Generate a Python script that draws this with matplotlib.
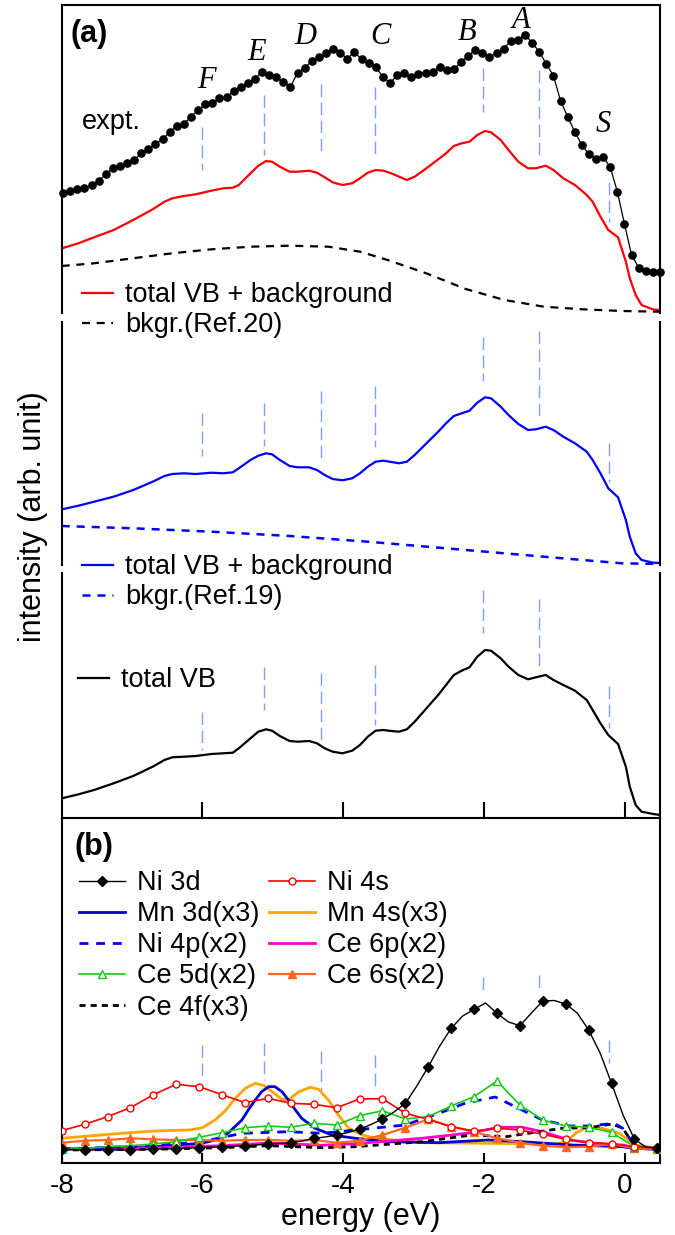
import numpy as np
import matplotlib
matplotlib.use("Agg")
import matplotlib.pyplot as plt
from matplotlib.lines import Line2D

plt.rcParams['font.family'] = ['Liberation Sans', 'DejaVu Sans']
plt.rcParams['axes.unicode_minus'] = False

# ---------------- data: panel (a) ----------------
# experimental spectrum (dots)
expt_E = np.linspace(-7.98, 0.50, 85)
expt_I = [120.3, 121.7, 123.7, 125.3, 128.0, 132.0, 138.7, 144.7, 147.0, 149.7,
          153.0, 159.7, 164.0, 168.7, 174.0, 180.7, 187.3, 189.0, 196.3, 203.0,
          208.7, 209.7, 214.7, 215.7, 221.7, 225.7, 230.3, 234.0, 241.3, 238.0,
          235.7, 231.0, 226.3, 240.3, 245.3, 252.0, 255.7, 260.3, 264.3, 260.3,
          254.3, 261.0, 253.7, 249.7, 245.7, 236.3, 229.7, 238.0, 240.0, 235.7,
          239.0, 240.3, 241.3, 246.3, 243.0, 243.7, 251.0, 257.0, 263.0, 259.7,
          255.7, 260.3, 264.3, 272.0, 273.0, 278.3, 270.3, 261.3, 249.0, 237.3,
          212.3, 196.3, 181.3, 168.0, 158.7, 154.0, 156.3, 145.7, 121.3, 89.0,
          58.0, 45.3, 42.3, 41.3, 41.3]

vb_E = [-7.995, -7.762, -7.54, -7.262, -6.984, -6.707, -6.54, -6.429, -6.262, -6.096,
        -5.873, -5.707, -5.568, -5.484, -5.318, -5.207, -5.096, -5.012, -4.901, -4.762,
        -4.651, -4.485, -4.374, -4.263, -4.151, -4.012, -3.874, -3.762, -3.651, -3.54,
        -3.429, -3.318, -3.207, -3.096, -2.985, -2.818, -2.651, -2.54, -2.429, -2.318,
        -2.207, -2.096, -1.985, -1.901, -1.763, -1.652, -1.513, -1.374, -1.263, -1.124,
        -1.013, -0.874, -0.708, -0.541, -0.457, -0.346, -0.235, -0.096, 0.015, 0.071,
        0.154, 0.238, 0.404, 0.5]
# total VB + background (Ref.20)  -- red
vb_bkg20 = [64.7, 69.7, 75.7, 83.0, 93.0, 103.7, 111.3, 114.7, 117.0, 118.7,
            122.3, 124.7, 125.3, 128.0, 139.7, 147.3, 152.0, 151.3, 146.3, 141.3,
            141.3, 142.3, 140.3, 135.7, 130.7, 128.0, 129.7, 134.7, 140.3, 143.0,
            142.3, 139.7, 136.3, 133.0, 136.3, 144.7, 153.7, 159.7, 167.0, 169.7,
            171.3, 178.0, 182.0, 180.7, 173.0, 163.0, 151.3, 144.7, 144.7, 147.3,
            143.0, 134.7, 128.0, 118.0, 111.3, 96.3, 83.0, 75.7, 51.3, 34.7,
            18.0, 8.0, 3.5, 3.0]
# total VB + background (Ref.19)  -- blue
vb_bkg19 = [55.7, 59.3, 63.3, 68.3, 75.0, 83.3, 89.0, 91.0, 91.7, 91.0,
            92.3, 91.7, 92.7, 96.7, 105.0, 109.3, 111.7, 110.7, 105.0, 99.0,
            97.7, 97.7, 95.0, 90.0, 86.0, 84.7, 86.7, 91.7, 98.3, 103.3,
            104.3, 103.0, 101.7, 103.3, 110.0, 121.7, 133.3, 141.7, 149.0, 151.7,
            154.3, 162.3, 167.7, 166.7, 158.3, 150.0, 141.0, 135.0, 135.7, 138.3,
            135.0, 128.3, 121.7, 113.3, 105.0, 91.7, 76.7, 67.7, 45.0, 28.3,
            11.7, 5.0, 2.3, 2.0]
# total VB -- black
vb_total = [19.7, 23.7, 28.0, 34.7, 42.0, 51.3, 58.0, 60.7, 61.3, 62.0,
            64.0, 64.7, 65.3, 69.7, 79.7, 86.3, 88.7, 87.3, 82.0, 77.0,
            76.3, 77.0, 74.7, 69.7, 66.3, 64.7, 67.3, 73.0, 81.3, 87.3,
            88.0, 87.0, 86.3, 88.7, 96.3, 109.7, 123.0, 133.0, 143.0, 147.3,
            150.7, 161.3, 168.0, 167.3, 159.7, 151.3, 143.0, 138.7, 140.7, 143.0,
            138.0, 133.0, 127.3, 118.0, 108.0, 94.7, 83.0, 74.0, 51.3, 31.3,
            13.0, 6.3, 4.0, 3.0]

bkg20_E = [-8.0, -7.54, -6.99, -6.43, -5.87, -5.32, -4.76, -4.21, -3.76, -3.37,
           -2.82, -2.26, -1.71, -1.15, -0.6, -0.04, 0.5]
bkg20_I = [47.0, 49.7, 54.7, 59.7, 63.7, 66.3, 67.3, 66.3, 61.3, 53.0,
           39.7, 24.0, 13.0, 6.3, 3.7, 2.0, 1.3]
bkg19_E = [-8.0, -6.99, -5.87, -4.76, -3.65, -2.54, -1.43, -0.6, -0.04, 0.5]
bkg19_I = [39.0, 36.7, 33.3, 29.0, 23.3, 16.7, 10.0, 5.0, 1.7, 1.0]

# peak markers (dashed guide lines)
peak_names = ['F', 'E', 'D', 'C', 'B', 'A', 'S']
peak_E = [-6.00, -5.12, -4.31, -3.55, -2.01, -1.22, -0.22]
a1_lo = [143, 158, 158, 158, 201, 153, 91]
a1_hi = [186, 218, 229, 226, 245, 243, 131]
a2_lo = [109, 119, 102, 118, 184, 145, 83]
a2_hi = [152, 162, 174, 179, 228, 234, 122]
a3_lo = [68, 108, 78, 93, 185, 150, 90]
a3_hi = [106, 151, 145, 153, 228, 219, 132]
b_lo = [86, 83, 73, 73, 173, 173, 100]
b_hi = [118, 120, 112, 108, 186, 188, 123]

# ---------------- data: panel (b) ----------------
ni3d_E = np.linspace(-8.0, 0.463, 53)
ni3d_I = [13.7, 13.5, 13.0, 13.0, 13.0, 13.0, 13.0, 13.3, 13.7, 14.0,
          14.3, 14.8, 15.3, 15.8, 16.3, 16.8, 17.3, 18.0, 19.0, 19.6,
          20.3, 22.0, 24.7, 26.0, 28.0, 30.5, 33.7, 38.5, 44.0, 51.0,
          59.7, 77.0, 96.3, 117.0, 134.7, 147.0, 153.7, 160.0, 149.7, 141.0,
          137.3, 150.0, 162.0, 162.5, 159.0, 150.0, 133.0, 110.0, 79.7, 48.0,
          23.7, 16.0, 15.3]
pdos_E = np.linspace(-8.0, 0.463, 27)
ni4s_I = [32.3, 38.7, 46.3, 55.3, 68.3, 78.7, 76.3, 68.3, 60.3, 64.7,
          59.7, 58.7, 55.3, 64.0, 64.3, 49.7, 43.7, 36.3, 32.0, 34.7,
          33.0, 28.7, 23.7, 20.3, 19.0, 16.3, 14.7]
ce5d_I = [13.7, 14.7, 16.3, 17.3, 19.0, 21.3, 25.7, 30.3, 35.3, 37.0,
          35.7, 39.7, 38.0, 47.3, 52.3, 44.0, 46.3, 57.0, 66.3, 82.0,
          58.0, 43.0, 37.0, 35.7, 30.7, 16.3, 14.7]
ce6s_I = [20.3, 22.3, 23.0, 24.7, 23.7, 23.0, 23.0, 22.3, 23.0, 23.0,
          22.3, 23.0, 20.3, 22.3, 28.0, 35.3, 43.7, 36.3, 31.3, 24.7,
          20.3, 17.3, 15.7, 16.3, 19.0, 14.7, 14.0]

mn3d_E = [-8.0, -6.67, -6.01, -5.82, -5.63, -5.44, -5.35, -5.25, -5.16, -5.06,
          -4.97, -4.87, -4.78, -4.68, -4.59, -4.40, -4.16, -3.83, -3.36, -2.65,
          -1.94, -1.46, -0.75, -0.03, 0.11, 0.46]
mn3d_I = [13.7, 16.3, 19.7, 23.0, 30.3, 43.0, 53.0, 63.0, 71.3, 76.3,
          76.3, 71.3, 63.0, 53.0, 44.7, 34.7, 28.0, 24.7, 21.3, 20.3,
          23.0, 21.3, 18.0, 16.3, 14.7, 13.7]
mn4s_E = [-8.0, -7.62, -7.15, -6.67, -6.20, -6.01, -5.82, -5.68, -5.53, -5.39,
          -5.25, -5.13, -5.01, -4.87, -4.78, -4.63, -4.47, -4.35, -4.21, -4.07,
          -3.92, -3.73, -3.54, -2.88, -1.93, -0.98, -0.83, -0.70, -0.56, -0.32,
          -0.08, 0.15, 0.46]
mn4s_I = [24.7, 27.0, 29.7, 32.0, 33.0, 35.0, 43.0, 52.0, 65.0, 74.7,
          79.7, 77.5, 71.3, 63.7, 63.0, 71.3, 75.7, 73.7, 63.0, 48.0,
          34.7, 28.0, 24.7, 20.3, 19.7, 19.0, 21.3, 29.7, 35.3, 34.7,
          29.7, 18.0, 14.7]
ni4p_E = [-8.0, -6.67, -6.01, -5.44, -4.78, -4.30, -3.83, -3.12, -2.64, -2.26,
          -1.84, -1.46, -1.17, -0.79, -0.51, -0.15, -0.03, 0.15, 0.46]
ni4p_I = [14.0, 17.3, 21.3, 29.7, 31.3, 29.7, 33.0, 38.0, 49.7, 60.0,
          66.0, 53.0, 43.0, 37.0, 37.0, 39.7, 34.7, 16.3, 14.0]
ce6p_E = [-8.0, -6.67, -5.72, -5.06, -4.30, -3.83, -2.88, -2.17, -1.79, -1.46,
          -1.17, -0.79, -0.41, -0.03, 0.15, 0.46]
ce6p_I = [14.0, 15.3, 17.3, 20.0, 17.7, 19.3, 24.7, 30.3, 35.7, 35.7,
          31.3, 23.0, 19.7, 18.0, 14.7, 13.7]
ce4f_E = [-8.0, -6.67, -5.72, -5.06, -4.30, -3.83, -2.88, -2.17, -1.69, -1.22,
          -0.89, -0.51, -0.18, -0.03, 0.15, 0.46]
ce4f_I = [13.0, 13.7, 15.3, 17.3, 15.3, 16.3, 21.3, 28.0, 26.3, 31.3,
          34.7, 35.3, 39.0, 34.7, 16.3, 13.7]

xticks = [-8, -6, -4, -2, 0]

# ---------------- layout ----------------
W, H = 675, 1235
fig = plt.figure(figsize=(W / 100, H / 100), dpi=100)
L_PX, R_PX = 61.7, 660.0


def box(top, bot):
    return [L_PX / W, 1 - bot / H, (R_PX - L_PX) / W, (bot - top) / H]


ax1 = fig.add_axes(box(5, 313))
ax2 = fig.add_axes(box(322, 565))
ax3 = fig.add_axes(box(573, 818))
axb = fig.add_axes(box(818, 1163))

SP_W = 1.5
for ax, (t, b) in zip([ax1, ax2, ax3, axb], [(5, 313), (322, 565), (573, 818), (818, 1163)]):
    ax.set_xlim(-8, 0.5)
    ax.set_ylim(0, b - t)
    ax.patch.set_visible(False)
    for s in ax.spines.values():
        s.set_linewidth(SP_W)
    ax.set_yticks([])

ax1.spines['bottom'].set_visible(False)
ax2.spines['top'].set_visible(False)
ax2.spines['bottom'].set_visible(False)
ax3.spines['top'].set_visible(False)
ax1.set_xticks([])
ax2.set_xticks([])
ax3.set_xticks([-6, -4, -2, 0])
ax3.tick_params(axis='x', direction='in', length=11.5, width=SP_W, labelbottom=False)
axb.spines['top'].set_visible(False)
axb.set_xticks(xticks)
axb.set_xticklabels([str(v) for v in xticks])
axb.tick_params(axis='x', direction='in', length=7.5, width=SP_W, labelsize=20, pad=7)

VCOL = '#7f9fff'


def guides(ax, lo, hi):
    for x, l, h in zip(peak_E, lo, hi):
        ax.plot([x, x], [h, l], color=VCOL, lw=1.0, dashes=(9, 4), zorder=1)


guides(ax1, a1_lo, a1_hi)
guides(ax2, a2_lo, a2_hi)
guides(ax3, a3_lo, a3_hi)
guides(axb, b_lo, b_hi)

# panel (a) curves
ax1.plot(expt_E, expt_I, color='black', lw=0.9, marker='o', ms=5.2, zorder=3, clip_on=False)
ax1.plot(vb_E, vb_bkg20, color='red', lw=1.6, zorder=2, solid_joinstyle='round')
ax1.plot(bkg20_E, bkg20_I, color='black', lw=1.6, dashes=(3.6, 3.0), zorder=2)
ax2.plot(vb_E, vb_bkg19, color='blue', lw=1.6, zorder=2, solid_joinstyle='round')
ax2.plot(bkg19_E, bkg19_I, color='blue', lw=1.8, dashes=(3.2, 2.8), zorder=2)
ax3.plot(vb_E, vb_total, color='black', lw=1.6, zorder=2, solid_joinstyle='round')

# peak letters
letter_pos = [(-5.94, 233), (-5.23, 261), (-4.54, 276), (-3.47, 276),
              (-2.24, 280), (-1.48, 293), (-0.31, 189)]
for name, (x, y) in zip(peak_names, letter_pos):
    ax1.text(x, y, name, family='Liberation Serif', style='italic', fontsize=22,
             ha='center', va='center')

fig.text(82 / W, 1 - 122 / H, 'expt.', fontsize=19.5, ha='left', va='center')
fig.text(70 / W, 1 - 34 / H, '(a)', fontsize=22, weight='bold', ha='left', va='center')
fig.text(74.5 / W, 1 - 847 / H, '(b)', fontsize=22, weight='bold', ha='left', va='center')

LEG_FS = 19.5
leg_kw = dict(loc='upper left', frameon=False, borderpad=0, borderaxespad=0,
              fontsize=LEG_FS, handlelength=1.15, handletextpad=0.45, labelspacing=0.16,
              bbox_transform=fig.transFigure)
fig.legend(handles=[Line2D([], [], color='red', lw=1.6),
                    Line2D([], [], color='black', lw=1.6, dashes=(3.6, 3.0))],
           labels=['total VB + background', 'bkgr.(Ref.20)'],
           bbox_to_anchor=(82 / W, 1 - 282 / H), **leg_kw)
fig.legend(handles=[Line2D([], [], color='blue', lw=1.6),
                    Line2D([], [], color='blue', lw=1.8, dashes=(3.2, 2.8))],
           labels=['total VB + background', 'bkgr.(Ref.19)'],
           bbox_to_anchor=(82 / W, 1 - 554 / H), **leg_kw)
fig.legend(handles=[Line2D([], [], color='black', lw=1.6)], labels=['total VB'],
           bbox_to_anchor=(78 / W, 1 - 667 / H), **leg_kw)

# panel (b) curves
C_NI4S = 'red'
C_MN3D = '#0000cc'
C_MN4S = '#ffa500'
C_NI4P = '#0000ff'
C_CE6P = '#ff00cc'
C_CE5D = '#11cc11'
C_CE6S = '#ff6622'

h_mn4s, = axb.plot(mn4s_E, mn4s_I, color=C_MN4S, lw=2.0, zorder=2)
h_mn3d, = axb.plot(mn3d_E, mn3d_I, color=C_MN3D, lw=2.0, zorder=2)
h_ce6p, = axb.plot(ce6p_E, ce6p_I, color=C_CE6P, lw=2.0, zorder=2)
h_ce4f, = axb.plot(ce4f_E, ce4f_I, color='black', lw=2.0, dashes=(2.2, 1.8), zorder=2)
h_ni4p, = axb.plot(ni4p_E, ni4p_I, color=C_NI4P, lw=2.0, dashes=(3.2, 2.8), zorder=2)
h_ce6s, = axb.plot(pdos_E, ce6s_I, color=C_CE6S, lw=1.6, marker='^', ms=6, zorder=3)
h_ce5d, = axb.plot(pdos_E, ce5d_I, color=C_CE5D, lw=1.2, marker='^', ms=6,
                   mfc='white', mec=C_CE5D, zorder=3)
h_ni4s, = axb.plot(pdos_E, ni4s_I, color=C_NI4S, lw=1.2, marker='o', ms=5,
                   mfc='white', mec=C_NI4S, zorder=3)
h_ni3d, = axb.plot(ni3d_E, ni3d_I, color='black', lw=1.0, marker='D', ms=5.5,
                   markevery=2, zorder=4)

leg_b = dict(leg_kw)
leg_b.update(handlelength=1.7, columnspacing=0.35, labelspacing=0.19)
fig.legend(handles=[h_ni3d, h_mn3d, h_ni4p, h_ce5d, h_ce4f, h_ni4s, h_mn4s, h_ce6p, h_ce6s],
           labels=['Ni 3d', 'Mn 3d(x3)', 'Ni 4p(x2)', 'Ce 5d(x2)', 'Ce 4f(x3)',
                   'Ni 4s', 'Mn 4s(x3)', 'Ce 6p(x2)', 'Ce 6s(x2)'],
           ncol=2, bbox_to_anchor=(79 / W, 1 - 870 / H), **leg_b)

axb.set_xlabel('energy (eV)', fontsize=22, labelpad=2)
fig.text(33 / W, 1 - 517 / H, 'intensity (arb. unit)', fontsize=22, rotation=90,
         ha='center', va='center')

fig.savefig('out.png', dpi=100)
